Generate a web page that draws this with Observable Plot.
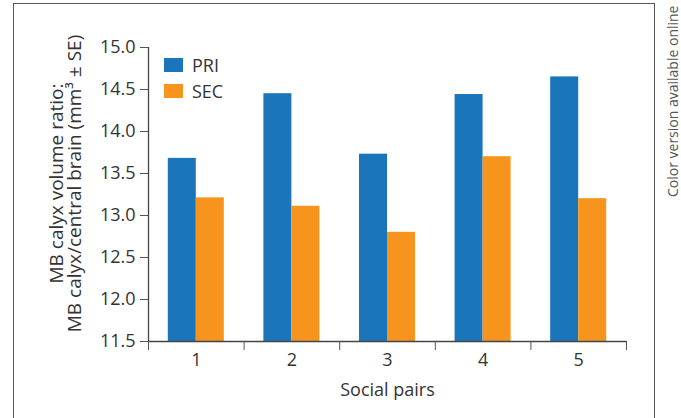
<!DOCTYPE html>
<html>
<head>
<meta charset="utf-8">
<script src="https://cdn.jsdelivr.net/npm/d3@7"></script>
<script src="https://cdn.jsdelivr.net/npm/@observablehq/plot@0.6"></script>
<style>
  body { margin: 0; background: #fff; }
  #wrap { position: relative; width: 681px; height: 418px; overflow: hidden; font-family: "Open Sans", sans-serif; }
  #frame { position: absolute; left: 13px; top: 3px; width: 640px; height: 440px; border: 1.5px solid #555; border-bottom: none; pointer-events: none; }
  #legend { position: absolute; left: 164px; top: 52px; font-size: 18px; color: #333; }
  .row { display: flex; align-items: center; height: 26px; }
  .sw { width: 19px; height: 14px; margin-right: 9px; }
</style>
</head>
<body>
<div id="wrap"><div id="frame"></div></div>
<script>
const pairs = [1, 2, 3, 4, 5];
const series = ["PRI", "SEC"];
const priValues = [13.68, 14.45, 13.73, 14.44, 14.65];
const secValues = [13.21, 13.11, 12.80, 13.70, 13.20];
const colors = ["#1B75BB", "#F7941D"];
const yTicks = [11.5, 12.0, 12.5, 13.0, 13.5, 14.0, 14.5, 15.0];
const yLabel = "MB calyx volume ratio:\nMB calyx/central brain (mm³ ± SE)";
const xLabel = "Social pairs";
const note = "Color version available online";

const data = [];
pairs.forEach((p, i) => {
  data.push({pair: p, series: "PRI", value: priValues[i]});
  data.push({pair: p, series: "SEC", value: secValues[i]});
});
const edges = pairs.map(p => p - 0.5).concat([pairs[pairs.length - 1] + 0.5]);
const half = 0.293; // bar width as fraction of a group

const chart = Plot.plot({
  width: 681,
  height: 418,
  marginLeft: 148,
  marginRight: 55,
  marginTop: 47,
  marginBottom: 77,
  style: {fontFamily: "Open Sans, sans-serif", fontSize: "18px", color: "#333", background: "transparent"},
  x: {domain: [edges[0], edges[edges.length - 1]]},
  y: {domain: [yTicks[0], yTicks[yTicks.length - 1]]},
  color: {domain: series, range: colors},
  marks: [
    Plot.rectY(data, {
      x1: d => d.series === "PRI" ? d.pair - half : d.pair,
      x2: d => d.series === "PRI" ? d.pair : d.pair + half,
      y1: yTicks[0],
      y2: "value",
      fill: "series"
    }),
    Plot.ruleY([yTicks[0]], {stroke: "#444", strokeWidth: 1.3}),
    Plot.ruleX([edges[0]], {y1: yTicks[0], y2: yTicks[yTicks.length - 1], stroke: "#444", strokeWidth: 1.3}),
    Plot.axisY({ticks: yTicks, tickFormat: d3.format(".1f"), tickSize: 8, tickPadding: 5, label: null, stroke: "#555", fill: "#333"}),
    Plot.axisX({ticks: edges, tickSize: 9, tickFormat: () => "", label: null, stroke: "#555"}),
    Plot.axisX({ticks: pairs, tickSize: 0, tickPadding: 12, tickFormat: d3.format("d"), label: null, fill: "#333"}),
    Plot.text([xLabel], {frameAnchor: "bottom", dy: 49, text: d => d, fill: "#333", fontSize: 18, lineAnchor: "middle"}),
    Plot.text([yLabel], {frameAnchor: "left", rotate: -90, dx: -82, dy: -11, textAnchor: "middle", text: d => d, fill: "#333", fontSize: 19, lineAnchor: "middle", lineHeight: 0.95}),
    Plot.text([note], {frameAnchor: "top-right", rotate: -90, dx: 47, dy: -42, textAnchor: "end", text: d => d, fill: "#555", fontSize: 14, lineAnchor: "middle"})
  ]
});
const wrap = document.getElementById("wrap");
wrap.insertBefore(chart, wrap.firstChild);

const legend = document.createElement("div");
legend.id = "legend";
series.forEach((s, i) => {
  const row = document.createElement("div");
  row.className = "row";
  const sw = document.createElement("div");
  sw.className = "sw";
  sw.style.background = colors[i];
  const t = document.createElement("span");
  t.textContent = s;
  row.appendChild(sw);
  row.appendChild(t);
  legend.appendChild(row);
});
wrap.appendChild(legend);
</script>
</body>
</html>
